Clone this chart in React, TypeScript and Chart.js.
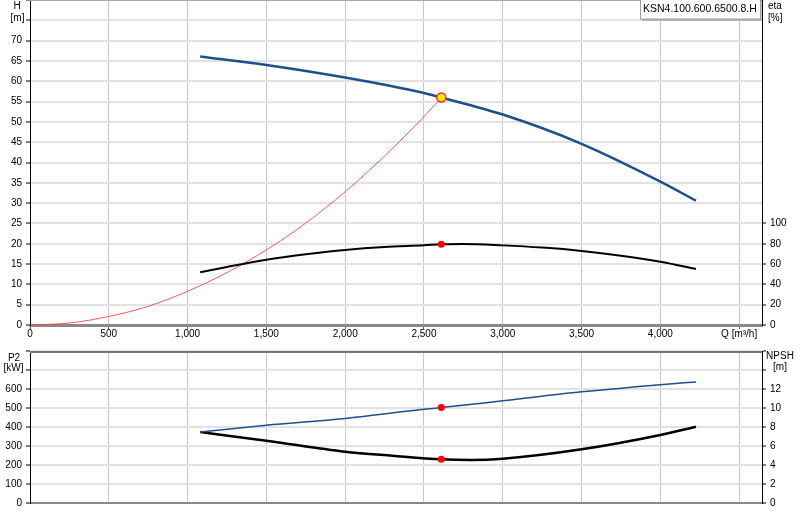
import React, { useEffect, useRef } from "react";
import { Chart, registerables } from "chart.js";

Chart.register(...registerables);

const FONT = "'Liberation Sans', Arial, sans-serif";

// pump curve (H) [m] vs Q [m³/h]
const flowHead = [1080, 1500, 2000, 2500, 2610, 3000, 3500, 4000, 4226];
const head = [66.1, 64.0, 60.9, 57.1, 56.0, 51.8, 44.6, 35.3, 30.6];

// efficiency [%]
const flowEta = [1080, 1250, 1500, 1750, 2000, 2250, 2500, 2610, 2750, 3000, 3250, 3500, 3750, 4000, 4226];
const eta = [52, 57.2, 64.3, 69.6, 73.9, 76.8, 78.5, 79.5, 79.8, 78.4, 76.2, 72.9, 68.2, 62.2, 55.2];

// system curve [m]
const flowSystem = [0, 250, 500, 750, 1000, 1250, 1500, 1750, 2000, 2250, 2500, 2610];
const headSystem = [0, 0.5, 2.1, 4.6, 8.3, 12.9, 18.5, 25.1, 32.8, 41.6, 51.3, 56.0];

// power P2 [kW]
const flowPower = [1080, 1500, 2000, 2500, 2610, 3000, 3500, 4000, 4226];
const power = [374, 409, 445, 493, 502, 538, 585, 623, 637];

// NPSH [m]
const flowNpsh = [1080, 1500, 2000, 2300, 2610, 2800, 3000, 3500, 4000, 4226];
const npsh = [7.47, 6.56, 5.4, 4.98, 4.6, 4.53, 4.66, 5.65, 7.16, 8.03];

// duty point
const dutyFlow = 2610;
const dutyHead = 56.0;
const dutyEta = 79.5;
const dutyPower = 502;
const dutyNpsh = 4.6;

// axis ticks
const flowTicks = [0, 500, 1000, 1500, 2000, 2500, 3000, 3500, 4000, 4500];
const flowUnitTick = 4500; // label of this tick is the axis title

const pumpName = "KSN4.100.600.6500.8.H";

const Q_MAX = 4645;

const toPoints = (xs: number[], ys: number[]) => xs.map((x, i) => ({ x, y: ys[i] }));

type Title = { text: string; x: number; y: number; align: CanvasTextAlign };

const titlesPlugin = (id: string, items: Title[]) => ({
  id,
  afterDraw(chart: any) {
    const ctx = chart.ctx;
    ctx.save();
    ctx.font = `10px ${FONT}`;
    ctx.fillStyle = "#000";
    ctx.textBaseline = "alphabetic";
    items.forEach((t) => {
      ctx.textAlign = t.align;
      ctx.fillText(t.text, t.x, t.y);
    });
    ctx.restore();
  },
});

const frameTop = (id: string, color: string, width: number) => ({
  id,
  afterDatasetsDraw(chart: any) {
    const { ctx, chartArea } = chart;
    ctx.save();
    ctx.strokeStyle = color;
    ctx.lineWidth = width;
    ctx.beginPath();
    ctx.moveTo(chartArea.left, chartArea.top + width / 2);
    ctx.lineTo(chartArea.right, chartArea.top + width / 2);
    ctx.stroke();
    ctx.restore();
  },
});

const nameBox = {
  id: "nameBox",
  afterDraw(chart: any) {
    const ctx = chart.ctx;
    ctx.save();
    ctx.fillStyle = "rgba(0,0,0,0.22)";
    ctx.fillRect(642, 0, 121, 21);
    ctx.fillStyle = "#fff";
    ctx.fillRect(640, -1, 121, 20);
    ctx.strokeStyle = "#a0a0a0";
    ctx.lineWidth = 1;
    ctx.strokeRect(640.5, -0.5, 120, 19.5);
    ctx.fillStyle = "#000";
    ctx.font = `10.5px ${FONT}`;
    ctx.textAlign = "left";
    ctx.textBaseline = "middle";
    ctx.fillText(pumpName, 643, 9);
    ctx.restore();
  },
};

const tickFont = { family: FONT, size: 10 };

const xAxis = (height: number, labels: boolean) => ({
  type: "linear",
  min: 0,
  max: Q_MAX,
  afterFit(s: any) {
    s.height = height;
    s.paddingLeft = 0;
    s.paddingRight = 0;
  },
  afterBuildTicks(s: any) {
    s.ticks = flowTicks.map((v) => ({ value: v }));
  },
  ticks: {
    display: labels,
    autoSkip: false,
    maxRotation: 0,
    padding: -1,
    color: "#000",
    font: tickFont,
    callback: (v: any) => (v === flowUnitTick ? "Q [m³/h]" : Number(v).toLocaleString("en-US")),
  },
  grid: {
    color: "#c8c8c8",
    lineWidth: 1,
    drawTicks: labels,
    tickLength: 4,
    tickColor: "#555",
  },
  border: { color: "#888", width: labels ? 3 : 2 },
});

const yAxis = (
  position: string,
  width: number,
  max: number,
  step: number,
  labelMax: number,
  grid: boolean,
  tickMax?: number
) => ({
  type: "linear",
  position,
  min: 0,
  max,
  afterFit(s: any) {
    s.width = width;
    s.paddingTop = 0;
    s.paddingBottom = 0;
  },
  afterBuildTicks(s: any) {
    if (tickMax !== undefined) s.ticks = s.ticks.filter((t: any) => t.value <= tickMax);
  },
  ticks: {
    stepSize: step,
    includeBounds: false,
    autoSkip: false,
    padding: 4,
    color: "#000",
    font: tickFont,
    callback: (v: any) => (v > labelMax ? "" : String(v)),
  },
  grid: {
    drawOnChartArea: grid,
    color: "#e2e2e2",
    lineWidth: 2,
    tickLength: 4,
    tickWidth: 1,
    tickColor: "#000",
  },
  border: { color: "#000", width: 1 },
});

function PumpChart() {
  const topRef = useRef<HTMLCanvasElement | null>(null);
  const bottomRef = useRef<HTMLCanvasElement | null>(null);

  useEffect(() => {
    const charts: Chart[] = [];

    if (topRef.current) {
      charts.push(
        new Chart(topRef.current, {
          type: "line",
          data: {
            datasets: [
              {
                label: "duty H",
                data: [{ x: dutyFlow, y: dutyHead }],
                yAxisID: "y",
                showLine: false,
                pointRadius: 4.5,
                pointBackgroundColor: "#ffe600",
                pointBorderColor: "#ff2a2a",
                pointBorderWidth: 1.5,
              },
              {
                label: "duty eta",
                data: [{ x: dutyFlow, y: dutyEta }],
                yAxisID: "eta",
                showLine: false,
                pointRadius: 3.5,
                pointBackgroundColor: "#ff0000",
                pointBorderColor: "#ff0000",
                pointBorderWidth: 0,
              },
              {
                label: "H",
                data: toPoints(flowHead, head),
                yAxisID: "y",
                borderColor: "#1c4f8c",
                borderWidth: 2.5,
                pointRadius: 0,
                cubicInterpolationMode: "monotone",
              },
              {
                label: "eta",
                data: toPoints(flowEta, eta),
                yAxisID: "eta",
                borderColor: "#000",
                borderWidth: 2,
                pointRadius: 0,
                cubicInterpolationMode: "monotone",
              },
              {
                label: "system",
                data: toPoints(flowSystem, headSystem),
                yAxisID: "y",
                borderColor: "rgba(255,60,60,0.85)",
                borderWidth: 1,
                pointRadius: 0,
                cubicInterpolationMode: "monotone",
              },
            ],
          },
          options: {
            responsive: false,
            animation: false,
            layout: { padding: 0, autoPadding: false },
            plugins: { legend: { display: false }, tooltip: { enabled: false } },
            scales: {
              x: xAxis(20, true),
              y: yAxis("left", 30, 80, 5, 70, true),
              eta: yAxis("right", 38, 320, 20, 100, false, 100),
            } as any,
          },
          plugins: [
            frameTop("topFrame", "#aaa", 1),
            titlesPlugin("topTitles", [
              { text: "H", x: 17, y: 8.5, align: "center" },
              { text: "[m]", x: 17.5, y: 20.5, align: "center" },
              { text: "eta", x: 768, y: 8.5, align: "left" },
              { text: "[%]", x: 768, y: 20.5, align: "left" },
            ]),
            nameBox,
          ],
        } as any)
      );
    }

    if (bottomRef.current) {
      charts.push(
        new Chart(bottomRef.current, {
          type: "line",
          data: {
            datasets: [
              {
                label: "duty P2",
                data: [{ x: dutyFlow, y: dutyPower }],
                yAxisID: "y",
                showLine: false,
                pointRadius: 3.5,
                pointBackgroundColor: "#ff0000",
                pointBorderWidth: 0,
              },
              {
                label: "duty NPSH",
                data: [{ x: dutyFlow, y: dutyNpsh }],
                yAxisID: "npsh",
                showLine: false,
                pointRadius: 3.5,
                pointBackgroundColor: "#ff0000",
                pointBorderWidth: 0,
              },
              {
                label: "P2",
                data: toPoints(flowPower, power),
                yAxisID: "y",
                borderColor: "#1c4f8c",
                borderWidth: 1.5,
                pointRadius: 0,
                cubicInterpolationMode: "monotone",
              },
              {
                label: "NPSH",
                data: toPoints(flowNpsh, npsh),
                yAxisID: "npsh",
                borderColor: "#000",
                borderWidth: 2.5,
                pointRadius: 0,
                cubicInterpolationMode: "monotone",
              },
            ],
          },
          options: {
            responsive: false,
            animation: false,
            layout: { padding: { top: 6 }, autoPadding: false },
            plugins: { legend: { display: false }, tooltip: { enabled: false } },
            scales: {
              x: xAxis(17, false),
              y: yAxis("left", 30, 800, 100, 600, true),
              npsh: yAxis("right", 38, 16, 2, 12, false),
            } as any,
          },
          plugins: [
            frameTop("bottomFrame", "#777", 2),
            titlesPlugin("bottomTitles", [
              { text: "P2", x: 14, y: 15.5, align: "center" },
              { text: "[kW]", x: 13.5, y: 25.5, align: "center" },
              { text: "NPSH", x: 780, y: 14, align: "center" },
              { text: "[m]", x: 780, y: 25, align: "center" },
            ]),
          ],
        } as any)
      );
    }

    return () => {
      charts.forEach((c) => c.destroy());
    };
  }, []);

  return (
    <div style={{ position: "absolute", left: 0, top: 0, width: 800, height: 520, background: "#fff" }}>
      <canvas ref={topRef} width={800} height={345} style={{ display: "block" }} />
      <canvas ref={bottomRef} width={800} height={175} style={{ display: "block" }} />
    </div>
  );
}

export default function App() {
  return <PumpChart />;
}
